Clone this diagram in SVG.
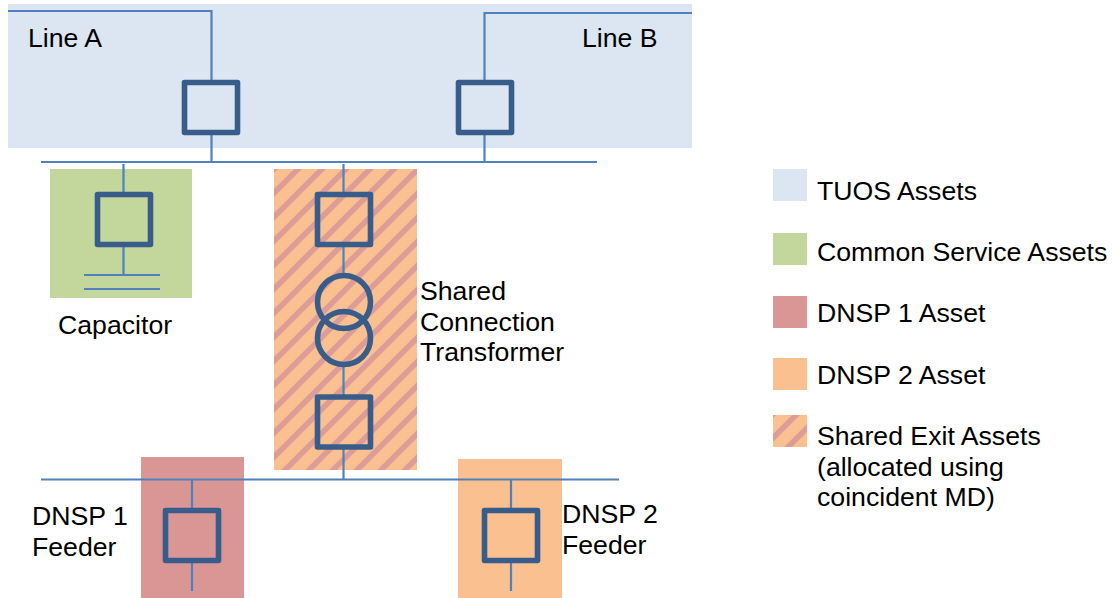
<svg xmlns="http://www.w3.org/2000/svg" width="1113" height="598" viewBox="0 0 1113 598">
<style>
text{font-family:"Liberation Sans",Arial,sans-serif;font-size:26.67px;fill:#000}
.line{stroke:#4f81bd;stroke-width:2.200;fill:none}
.sw{fill:none;stroke:#385d8a;stroke-width:5.600;stroke-linejoin:round}
</style>
<defs>
<pattern id="hatch" width="24" height="24" patternUnits="userSpaceOnUse" patternTransform="translate(274 169)">
<rect width="24" height="24" fill="#fac090"/>
<path d="M-6 6L6 -6M-6 30L30 -6M18 30L30 18" stroke="#dd9c98" stroke-width="5.500" fill="none"/>
</pattern>
</defs>
<g id="areas">
<rect id="tuos-area" x="8" y="4" width="684" height="144" fill="#dce6f2"/>
<rect id="capacitor-area" x="50" y="169" width="142" height="129" fill="#c3d69b"/>
<rect id="transformer-area" x="274" y="169" width="143" height="301" fill="url(#hatch)"/>
<rect id="dnsp1-area" x="141" y="457" width="103" height="141" fill="#d99694"/>
<rect id="dnsp2-area" x="458" y="459" width="104" height="139" fill="#fac090"/>
</g>
<g id="connectors">
<path class="line" d="M41 162H597M41 479.500H619"/>
<path class="line" d="M8 11H211.500V82M211.500 133V162"/>
<path class="line" d="M692 13H484.500V82M484.500 133V162"/>
<path class="line" d="M123.500 164V195M123.500 245V275M84 275H160M84 289H160"/>
<path class="line" d="M343.500 164V195M343.500 245V276M343.500 366V397M343.500 447V479"/>
<path class="line" d="M192 480V511M192 561V591"/>
<path class="line" d="M511 480V511M511 561V591"/>
</g>
<g id="breaker-line-a"><rect class="sw" x="184.500" y="82.500" width="53" height="50"/></g>
<g id="breaker-line-b"><rect class="sw" x="458.500" y="82.500" width="53" height="50"/></g>
<g id="breaker-capacitor"><rect class="sw" x="97.500" y="194.500" width="53" height="50"/></g>
<g id="breaker-transformer-hv"><rect class="sw" x="317.500" y="194.500" width="53" height="50"/></g>
<g id="transformer"><circle class="sw" cx="344" cy="302" r="26.500"/><circle class="sw" cx="344" cy="338" r="26.500"/></g>
<g id="breaker-transformer-lv"><rect class="sw" x="317.500" y="397" width="53" height="50"/></g>
<g id="breaker-dnsp1"><rect class="sw" x="165.500" y="510.500" width="53" height="50"/></g>
<g id="breaker-dnsp2"><rect class="sw" x="484.500" y="510.500" width="53" height="50"/></g>
<g id="labels">
<text x="28" y="47">Line A</text>
<text x="582" y="47">Line B</text>
<text x="58" y="334">Capacitor</text>
<text x="420" y="300">Shared</text>
<text x="420" y="331">Connection</text>
<text x="420" y="361">Transformer</text>
<text x="32" y="525">DNSP 1</text>
<text x="32" y="556">Feeder</text>
<text x="562" y="523">DNSP 2</text>
<text x="562" y="554">Feeder</text>
</g>
<g id="legend">
<rect x="773" y="169" width="34" height="32" fill="#dce6f2"/>
<text x="817" y="200">TUOS Assets</text>
<rect x="773" y="233" width="34" height="32" fill="#c3d69b"/>
<text x="817" y="261">Common Service Assets</text>
<rect x="773" y="296" width="34" height="32" fill="#d99694"/>
<text x="817" y="322">DNSP 1 Asset</text>
<rect x="773" y="358" width="34" height="32" fill="#fac090"/>
<text x="817" y="384">DNSP 2 Asset</text>
<rect x="773" y="415" width="34" height="32" fill="url(#hatch)"/>
<text x="817" y="445">Shared Exit Assets</text>
<text x="817" y="476">(allocated using</text>
<text x="817" y="506">coincident MD)</text>
</g>
</svg>
